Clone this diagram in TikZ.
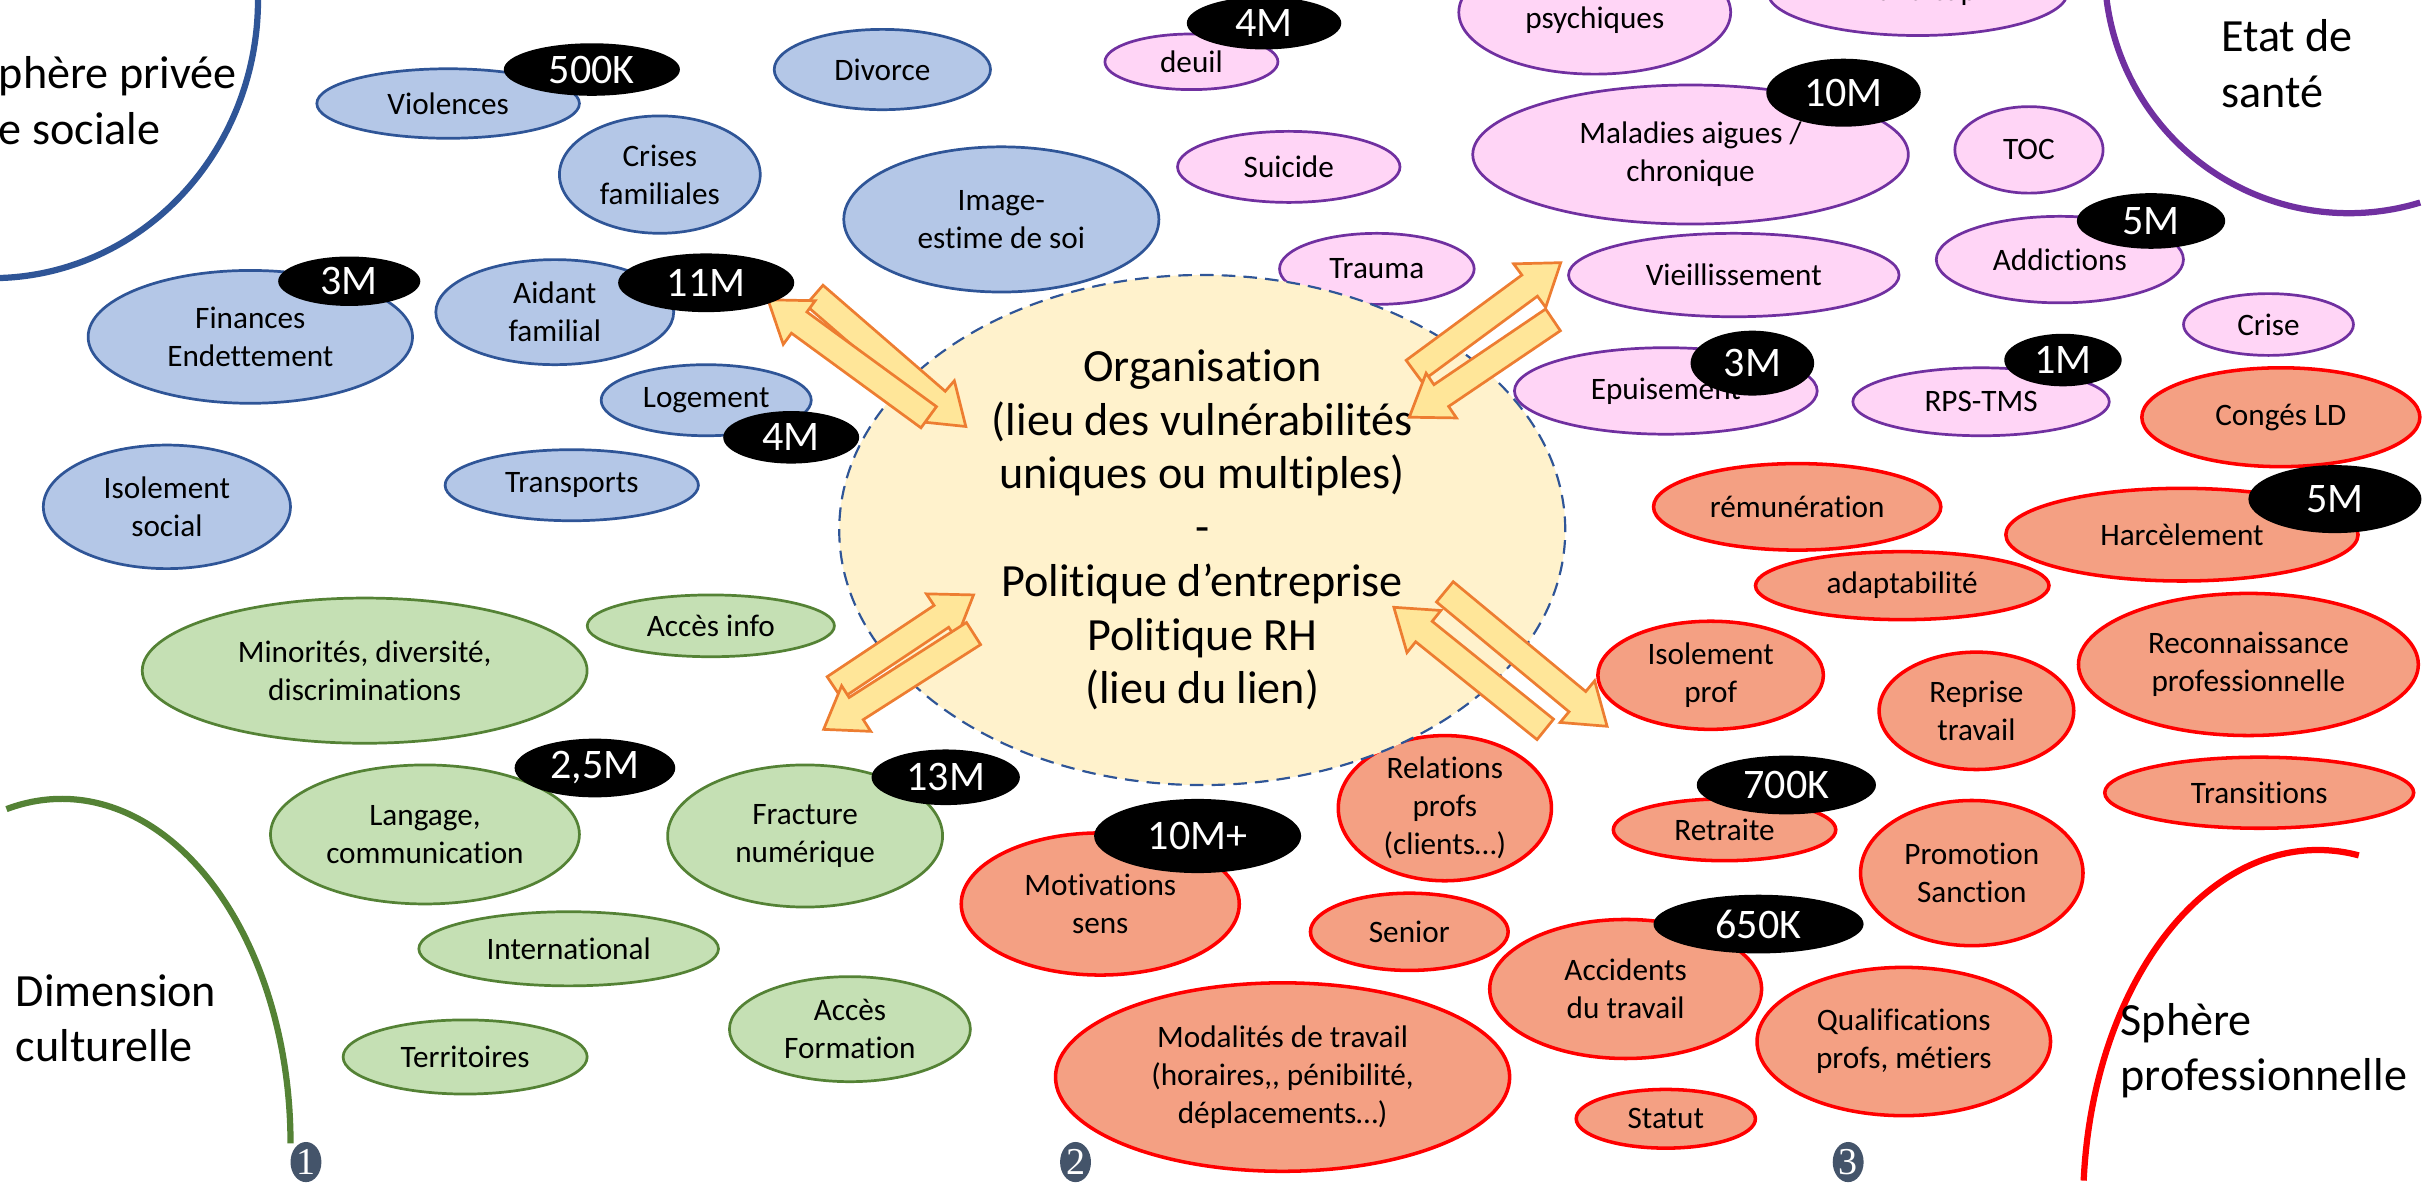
\documentclass[tikz,border=0pt]{standalone}
\usepackage{fontspec}
\setmainfont{Carlito}[Ligatures={TeX,NoCommon}]
\newfontfamily\numfont{Liberation Serif}
\usetikzlibrary{shapes.geometric,calc}
\definecolor{priveefill}{HTML}{B4C7E7}
\definecolor{priveeline}{HTML}{2F5597}
\definecolor{santefill}{HTML}{FFD5F6}
\definecolor{santeline}{HTML}{7030A0}
\definecolor{profill}{HTML}{F4A083}
\definecolor{proline}{HTML}{FF0000}
\definecolor{culturefill}{HTML}{C5E0B4}
\definecolor{cultureline}{HTML}{548235}
\definecolor{orgfill}{HTML}{FFF2CC}
\definecolor{arrowfill}{HTML}{FFE699}
\definecolor{arrowline}{HTML}{ED7D31}
\definecolor{slate}{HTML}{44546A}
\tikzset{
  bubble/.style={ellipse,inner sep=0pt,align=center,line width=1pt,font=\fontsize{11.5}{14}\selectfont},
  sz/.style 2 args={minimum width=#1*0.04cm,minimum height=#2*0.04cm},
  privee/.style={bubble,fill=priveefill,draw=priveeline},
  sante/.style={bubble,fill=santefill,draw=santeline},
  pro/.style={bubble,fill=profill,draw=proline,line width=1.3pt},
  culture/.style={bubble,fill=culturefill,draw=cultureline},
  count/.style={ellipse,inner sep=0pt,fill=black,text=white,font=\fontsize{15.5}{18}\selectfont},
  rank/.style={ellipse,inner sep=0pt,fill=slate,text=white,minimum width=0.4cm,minimum height=0.52cm,font=\numfont\fontsize{14}{16}\selectfont},
  sphere/.style={align=left,inner sep=0pt,anchor=west,font=\fontsize{17}{20.5}\selectfont},
  arcline/.style={line width=2.3pt},
  fat/.style={fill=arrowfill,draw=arrowline,line width=1pt},
}
\newcommand{\fatarrow}[2]{%
  \coordinate (fb) at ($(#2)!0.5cm!(#1)$);
  \draw[fat] ($(#1)!0.17cm!90:(#2)$) -- ($(fb)!0.17cm!-90:(#1)$) -- ($(fb)!0.35cm!-90:(#1)$) -- (#2)
    -- ($(fb)!0.35cm!90:(#1)$) -- ($(fb)!0.17cm!90:(#1)$) -- ($(#1)!0.17cm!-90:(#2)$) -- cycle;}
\begin{document}
\begin{tikzpicture}[x=0.02cm,y=-0.02cm]
\useasboundingbox (0,0) rectangle (1568,766);
\clip (0,0) rectangle (1568,766);

\draw[arcline,priveeline] (166.3,-15.7) arc[start angle=-5,end angle=100,x radius=172,y radius=180];
\draw[arcline,santeline] (1362.6,-33.8) arc[start angle=185,end angle=73,radius=158];
\draw[arcline,cultureline] (4.2,523.6) arc[start angle=256,end angle=360,x radius=148,y radius=223];
\draw[arcline,proline] (1348.4,764) arc[start angle=184,end angle=280,x radius=152,y radius=230];

\node[sphere] (privee-label) at (-1,65) {phère privée\\e sociale};
\node[sphere] (sante-label) at (1437,41) {Etat de\\santé};
\node[sphere] (culture-label) at (10,659) {Dimension\\culturelle};
\node[sphere] (pro-label) at (1372,680) {Sphère\\professionnelle};

\node[privee,sz={85}{22.5}] (violences) at (290,67) {Violences};
\node[privee,sz={70}{26}] (divorce) at (571,45) {Divorce};
\node[privee,sz={65}{38}] (crises) at (427,113) {Crises\\familiales};
\node[privee,sz={102}{47}] (image) at (648,142) {Image-\\estime de soi};
\node[privee,sz={105}{43}] (finances) at (162,218) {Finances\\Endettement};
\node[privee,sz={77}{34}] (aidant) at (359,202) {Aidant\\familial};
\node[privee,sz={68}{23}] (logement) at (457,259) {Logement};
\node[privee,sz={82}{23}] (transports) at (370,314) {Transports};
\node[privee,sz={80}{40}] (isolsoc) at (108,328) {Isolement\\social};

\node[sante,sz={56}{18}] (deuil) at (771,40) {deuil};
\node[sante,sz={88}{40}] (psychiques) at (1032,8) {\mbox{}\\psychiques};
\node[sante,sz={97}{28}] (handicap) at (1241,-5) {Handicap};
\node[sante,sz={141}{45}] (maladies) at (1094,100) {Maladies aigues /\\chronique};
\node[sante,sz={48}{28}] (toc) at (1313,97) {TOC};
\node[sante,sz={72}{23}] (suicide) at (834,108) {Suicide};
\node[sante,sz={63}{23}] (trauma) at (891,174) {Trauma};
\node[sante,sz={107}{27}] (vieil) at (1122,178) {Vieillissement};
\node[sante,sz={80}{28}] (addictions) at (1333,168) {Addictions};
\node[sante,sz={55}{20}] (crise) at (1468,210) {Crise};
\node[sante,sz={98}{28}] (epuisement) at (1078,253) {Epuisement};
\node[sante,sz={83}{22}] (rps) at (1282,260) {RPS-TMS};

\node[pro,sz={90}{32}] (conges) at (1476,270) {Congés LD};
\node[pro,sz={93}{28}] (remun) at (1163,328) {rémunération};
\node[pro,sz={114}{30}] (harcel) at (1412,346) {Harcèlement};
\node[pro,sz={95}{22}] (adapt) at (1231,379) {adaptabilité};
\node[pro,sz={110}{46}] (reconn) at (1455,430) {Reconnaissance\\professionnelle};
\node[pro,sz={73}{35}] (isolpro) at (1107,437) {Isolement\\prof};
\node[pro,sz={63}{38}] (reprise) at (1279,460) {Reprise\\travail};
\node[pro,sz={100}{23}] (transitions) at (1462,513) {Transitions};
\node[pro,sz={69}{47}] (relations) at (935,523) {Relations\\profs\\(clients…)};
\node[pro,sz={72}{20}] (retraite) at (1116,537) {Retraite};
\node[pro,sz={72}{47}] (promotion) at (1276,565) {Promotion\\Sanction};
\node[pro,sz={90}{46}] (motivations) at (712,585) {Motivations\\sens};
\node[pro,sz={64}{25}] (senior) at (912,603) {Senior};
\node[pro,sz={88}{45}] (accidents) at (1052,640) {Accidents\\du travail};
\node[pro,sz={147}{61}] (modalites) at (830,697) {Modalités de travail\\(horaires,\kern0pt, pénibilité,\\déplacements…)};
\node[pro,sz={95}{48}] (qualif) at (1232,674) {Qualifications\\profs, métiers};
\node[pro,sz={58}{19}] (statut) at (1078,724) {Statut};

\node[culture,sz={80}{20}] (accinfo) at (460,405) {Accès info};
\node[culture,sz={144}{47}] (minorites) at (236,434) {Minorités, diversité,\\discriminations};
\node[culture,sz={100}{45}] (langage) at (275,540) {Langage,\\communication};
\node[culture,sz={89}{46}] (fracture) at (521,541) {Fracture\\numérique};
\node[culture,sz={97}{24}] (international) at (368,614) {International};
\node[culture,sz={79}{24}] (territoires) at (301,684) {Territoires};
\node[culture,sz={78}{34}] (accform) at (550,666) {Accès\\Formation};

\node[ellipse,sz={235}{133},fill=orgfill,draw=priveeline,line width=0.8pt,dash pattern=on 5pt off 3pt,
  align=center,inner sep=0pt,font=\fontsize{17}{19.8}\selectfont] (org) at (778,343)
  {Organisation\\(lieu des vulnérabilités\\uniques ou multiples)\\-\\Politique d’entreprise\\Politique RH\\(lieu du lien)};

\coordinate (tl-in-a) at (527,191); \coordinate (tl-in-b) at (625,276);
\coordinate (tl-out-a) at (601,270); \coordinate (tl-out-b) at (497,194);
\coordinate (tr-out-a) at (915,240); \coordinate (tr-out-b) at (1010,170);
\coordinate (tr-in-a) at (1005,207); \coordinate (tr-in-b) at (912,270);
\coordinate (bl-in-a) at (540,445); \coordinate (bl-in-b) at (630,385);
\coordinate (bl-out-a) at (630,410); \coordinate (bl-out-b) at (533,472);
\coordinate (br-in-a) at (1000,472); \coordinate (br-in-b) at (902,393);
\coordinate (br-out-a) at (935,383); \coordinate (br-out-b) at (1040,470);
\foreach \side in {tl-in,tl-out,tr-out,tr-in,bl-in,bl-out,br-in,br-out}
  \fatarrow{\side-a}{\side-b};

\node[count,sz={57}{17}] (violences-n) at (383,45) {500K};
\node[count,sz={46}{16}] (finances-n) at (226,182) {3M};
\node[count,sz={57}{19}] (aidant-n) at (457,183) {11M};
\node[count,sz={44}{17}] (logement-n) at (512,283) {4M};
\node[count,sz={50}{17}] (deuil-n) at (818,15) {4M};
\node[count,sz={50}{22}] (maladies-n) at (1193,60) {10M};
\node[count,sz={48}{18}] (addictions-n) at (1392,143) {5M};
\node[count,sz={40}{21}] (epuisement-n) at (1134,235) {3M};
\node[count,sz={38}{17}] (rps-n) at (1335,233) {1M};
\node[count,sz={56}{22}] (harcel-n) at (1511,323) {5M};
\node[count,sz={58}{19}] (retraite-n) at (1156,508) {700K};
\node[count,sz={67}{24}] (motivations-n) at (775,541) {10M+};
\node[count,sz={68}{19}] (accidents-n) at (1138,598) {650K};
\node[count,sz={52}{19}] (langage-n) at (385,497) {2,5M};
\node[count,sz={48}{18}] (fracture-n) at (612,503) {13M};

\node[rank] (rank1) at (198,752) {1};
\node[rank] (rank2) at (696,752) {2};
\node[rank] (rank3) at (1196,752) {3};
\end{tikzpicture}
\end{document}
